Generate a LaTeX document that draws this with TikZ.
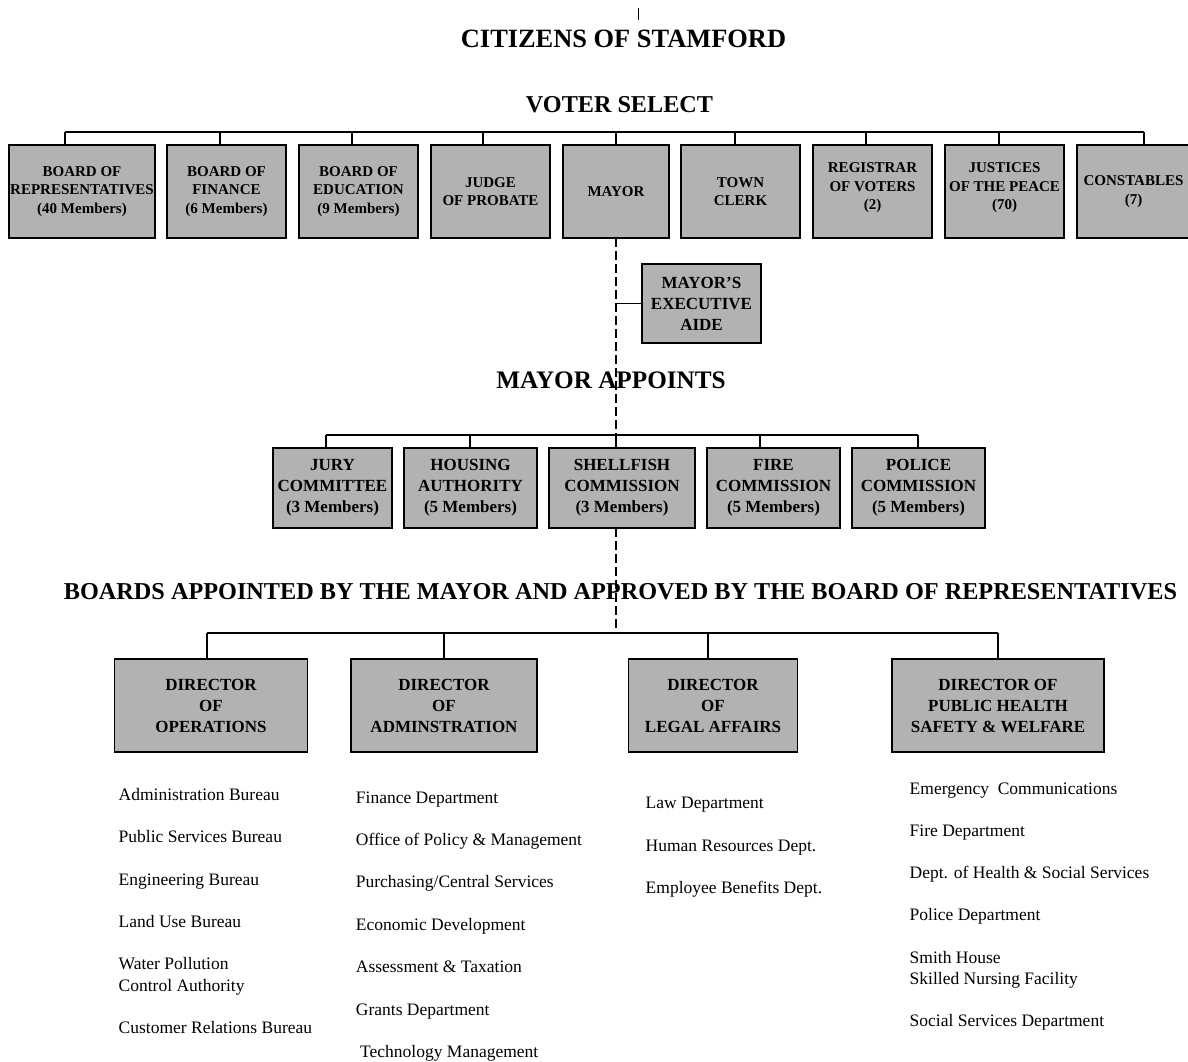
\documentclass[tikz,border=0pt]{standalone}
\usepackage{fontspec}
\setmainfont{Liberation Serif}
\definecolor{boxgray}{RGB}{178,178,178}
\begin{document}
\begin{tikzpicture}[x=1pt,y=-1pt,
  tbox/.style={draw=black, line width=1.3pt, fill=boxgray, align=center, inner sep=0pt,
    font=\bfseries\fontsize{15}{18.5}\selectfont},
  mbox/.style={tbox, font=\bfseries\fontsize{17}{21}\selectfont},
  head/.style={inner sep=0pt, anchor=base},
  item/.style={font=\fontsize{17.5}{21}\selectfont, inner sep=0pt, anchor=base west},
  conn/.style={line width=1.3pt},
  dashline/.style={line width=1.3pt, dash pattern=on 9pt off 4pt},
]
\useasboundingbox (0,0) rectangle (1188,1061);

% headings
\coordinate (tickA) at (638,8);
\coordinate (tickB) at (638,20);
\draw[line width=1pt] (tickA) -- (tickB);
\node[head, font=\bfseries\fontsize{26.4}{30}\selectfont] (cit) at (623.5,47.5) {CITIZENS OF STAMFORD};
\node[head, font=\bfseries\fontsize{24.2}{28}\selectfont] (vs) at (619.5,112) {VOTER SELECT};

% coordinates for connectors
\coordinate (v1) at (65,132);   \coordinate (v2) at (220,132);
\coordinate (v3) at (352,132);  \coordinate (v4) at (483,132);
\coordinate (v5) at (616,132);  \coordinate (v6) at (735,132);
\coordinate (v7) at (866,132);  \coordinate (v8) at (999,132);
\coordinate (v9) at (1144,132);
\coordinate (aidej) at (616,303.5);
\coordinate (m1) at (326,435); \coordinate (m2) at (470,435);
\coordinate (m3) at (616,435); \coordinate (m4) at (760,435);
\coordinate (m5) at (918,435);
\coordinate (d1) at (207,633); \coordinate (d2) at (444,633);
\coordinate (d3) at (708,633); \coordinate (d4) at (998,633);
\coordinate (dmid) at (616,633);

% dashed spine (drawn first, boxes cover it)
\draw[dashline] (v5 |- 0,238) -- (m3);
\draw[dashline] (m3 |- 0,528) -- (dmid);

% top row
\node[tbox, minimum width=146pt, minimum height=93pt] (bor) at (82,191.5) {BOARD OF\\REPRESENTATIVES\\(40 Members)};
\node[tbox, minimum width=119pt, minimum height=93pt] (bof) at (226.5,191.5) {BOARD OF\\FINANCE\\(6 Members)};
\node[tbox, minimum width=119pt, minimum height=93pt] (boe) at (358.5,191.5) {BOARD OF\\EDUCATION\\(9 Members)};
\node[tbox, minimum width=119pt, minimum height=93pt] (jud) at (490.5,191.5) {JUDGE\\OF PROBATE};
\node[tbox, minimum width=106pt, minimum height=93pt] (may) at (616,191.5) {MAYOR};
\node[tbox, minimum width=119pt, minimum height=93pt] (tc) at (740.5,191.5) {TOWN\\CLERK};
\node[tbox, minimum width=119pt, minimum height=93pt] (reg) at (872.5,191.5) {REGISTRAR\\OF VOTERS\\(2)\\[-8.5pt]};
\node[tbox, minimum width=119pt, minimum height=93pt] (jus) at (1004.5,191.5) {JUSTICES\\OF THE PEACE\\(70)\\[-8.5pt]};
\node[tbox, minimum width=113pt, minimum height=93pt] (con) at (1133.5,191.5) {CONSTABLES\\(7)};

\draw[conn] (v1) -- (v9);
\draw[conn] (v1) -- (v1 |- bor.north);
\draw[conn] (v2) -- (v2 |- bof.north);
\draw[conn] (v3) -- (v3 |- boe.north);
\draw[conn] (v4) -- (v4 |- jud.north);
\draw[conn] (v5) -- (v5 |- may.north);
\draw[conn] (v6) -- (v6 |- tc.north);
\draw[conn] (v7) -- (v7 |- reg.north);
\draw[conn] (v8) -- (v8 |- jus.north);
\draw[conn] (v9) -- (v9 |- con.north);

% aide
\node[mbox, minimum width=119pt, minimum height=79pt] (aide) at (701.5,303.5) {MAYOR’S\\EXECUTIVE\\AIDE};
\draw[conn] (aidej) -- (aide.west);

\node[head, font=\bfseries\fontsize{25.2}{29}\selectfont] (ma) at (611,388) {MAYOR APPOINTS};

% middle row
\node[mbox, minimum width=119pt, minimum height=80pt] (jury) at (332.5,488) {JURY\\COMMITTEE\\(3 Members)};
\node[mbox, minimum width=133pt, minimum height=80pt] (hous) at (470.5,488) {HOUSING\\AUTHORITY\\(5 Members)};
\node[mbox, minimum width=146pt, minimum height=80pt] (shell) at (622,488) {SHELLFISH\\COMMISSION\\(3 Members)};
\node[mbox, minimum width=133pt, minimum height=80pt] (fire) at (773.5,488) {FIRE\\COMMISSION\\(5 Members)};
\node[mbox, minimum width=133pt, minimum height=80pt] (pol) at (918.5,488) {POLICE\\COMMISSION\\(5 Members)};
\draw[conn] (m1) -- (m5);
\draw[conn] (m1) -- (m1 |- jury.north);
\draw[conn] (m2) -- (m2 |- hous.north);
\draw[conn] (m3) -- (m3 |- shell.north);
\draw[conn] (m4) -- (m4 |- fire.north);
\draw[conn] (m5) -- (m5 |- pol.north);

\node[head, font=\bfseries\fontsize{24.25}{28}\selectfont] (boards) at (620.5,599) {BOARDS APPOINTED BY THE MAYOR AND APPROVED BY THE BOARD OF REPRESENTATIVES};

% directors
\node[mbox, minimum width=192.5pt, minimum height=93pt] (ops) at (211,705.5) {DIRECTOR\\OF\\OPERATIONS};
\node[mbox, minimum width=186pt, minimum height=93pt] (adm) at (444,705.5) {DIRECTOR\\OF\\ADMINSTRATION};
\node[mbox, minimum width=168.5pt, minimum height=93pt] (leg) at (713,705.5) {DIRECTOR\\OF\\LEGAL AFFAIRS};
\node[mbox, minimum width=212pt, minimum height=93pt] (phs) at (998,705.5) {DIRECTOR OF\\PUBLIC HEALTH\\SAFETY \& WELFARE};
\draw[conn] (d1) -- (d4);
\draw[conn] (d1) -- (d1 |- ops.north);
\draw[conn] (d2) -- (d2 |- adm.north);
\draw[conn] (d3) -- (d3 |- leg.north);
\draw[conn] (d4) -- (d4 |- phs.north);

% lists
\node[item] (o1) at (118.5,800.5) {Administration Bureau};
\node[item] (o2) at (118.5,842.7) {Public Services Bureau};
\node[item] (o3) at (118.5,885) {Engineering Bureau};
\node[item] (o4) at (118.5,927) {Land Use Bureau};
\node[item] (o5a) at (118.5,969) {Water Pollution};
\node[item] (o5b) at (118.5,991) {Control Authority};
\node[item] (o6) at (118.5,1033) {Customer Relations Bureau};

\node[item] (a1) at (355.7,803) {Finance Department};
\node[item] (a2) at (355.7,845) {Office of Policy \& Management};
\node[item] (a3) at (355.7,887) {Purchasing/Central Services};
\node[item] (a4) at (355.7,930) {Economic Development};
\node[item] (a5) at (355.7,972) {Assessment \& Taxation};
\node[item] (a6) at (355.7,1015) {Grants Department};
\node[item] (a7) at (360,1057) {Technology Management};

\node[item] (l1) at (645.5,808) {Law Department};
\node[item] (l2) at (645.5,851) {Human Resources Dept.};
\node[item] (l3) at (645.5,893) {Employee Benefits Dept.};

\node[item] (p1) at (909.5,794) {Emergency\ \ Communications};
\node[item] (p2) at (909.5,836) {Fire Department};
\node[item] (p3) at (909.5,878) {Dept. of Health \& Social Services};
\node[item] (p4) at (909.5,920) {Police Department};
\node[item] (p5a) at (909.5,963) {Smith House};
\node[item] (p5b) at (909.5,984) {Skilled Nursing Facility};
\node[item] (p6) at (909.5,1026) {Social Services Department};
\end{tikzpicture}
\end{document}
